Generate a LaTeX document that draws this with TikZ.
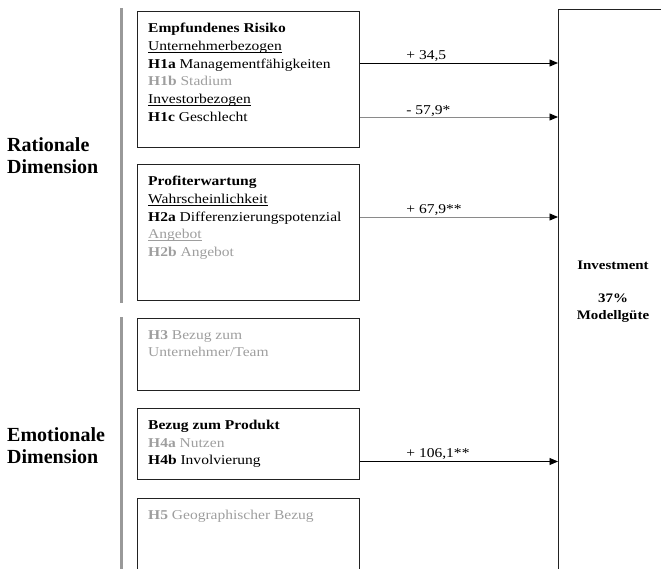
\documentclass[tikz,border=0pt]{standalone}
\usepackage{fontspec}
\setmainfont{Liberation Serif}
\newfontfamily\hypfont{Liberation Serif}[FakeStretch=1.15]
\usetikzlibrary{arrows.meta,positioning}

\definecolor{framecol}{HTML}{222222}
\definecolor{bargray}{HTML}{999999}
\definecolor{hypgray}{HTML}{9E9E9E}
\definecolor{linegray}{HTML}{8A8A8A}

\newsavebox{\ulbox}
\newcommand{\uln}[1]{\sbox{\ulbox}{#1}\rlap{\rule[-1.8pt]{\wd\ulbox}{0.6pt}}\usebox{\ulbox}}
\newcommand{\nosig}[1]{\textcolor{hypgray}{#1}}

\tikzset{
  hbox/.style={draw=framecol,line width=1.3pt,anchor=north west,minimum width=222pt,inner sep=0pt},
  htext/.style={anchor=north west,align=left,inner sep=0pt,font=\hypfont\fontsize{13.5}{17.7}\selectfont},
  dim/.style={anchor=north west,align=left,inner sep=0pt,font=\fontsize{20}{22}\selectfont\bfseries},
  bar/.style={draw=bargray,line width=3pt},
  arr/.style={line width=0.9pt,-{Triangle[length=8.5pt,width=7pt,color=black]}},
  lab/.style={anchor=base west,inner sep=0pt,yshift=4pt,font=\hypfont\fontsize{13.5}{16}\selectfont}
}

\begin{document}
\begin{tikzpicture}[x=1pt,y=-1pt]
    \clip (0,0) rectangle (661,568);

    \draw[bar] (121,8) -- (121,303);
    \draw[bar] (121,317) -- (121,570);

    \node (rat) at (7,137) [dim]{Rationale\\Dimension};
    \node (emo) at (7,427) [dim]{Emotionale\\Dimension};

    \node (risk) at (137,11) [hbox,minimum height=136pt]{};
    \node (prof) at (137,164) [hbox,minimum height=136pt]{};
    \node (team) at (137,318) [hbox,minimum height=72pt]{};
    \node (prod) at (137,408) [hbox,minimum height=71pt]{};
    \node (geo) at (137,498) [hbox,minimum height=90pt]{};
    \node (invest) at (558,9) [draw=framecol,line width=1.3pt,anchor=north west,minimum width=110pt,minimum height=600pt]{};

    \node (risk-t) at ([shift={(11,12)}]risk.north west) [htext]{\textbf{Empfundenes Risiko}\\
      \uln{Unternehmerbezogen}\\
      \textbf{H1a} Managementfähigkeiten\\
      \nosig{\textbf{H1b} Stadium}\\
      \uln{Investorbezogen}\\
      \textbf{H1c} Geschlecht};
    \node (prof-t) at ([shift={(11,12)}]prof.north west) [htext]{\textbf{Profiterwartung}\\
      \uln{Wahrscheinlichkeit}\\
      \textbf{H2a} Differenzierungspotenzial\\
      \nosig{\uln{Angebot}}\\
      \nosig{\textbf{H2b} Angebot}};
    \node (team-t) at ([shift={(11,12)}]team.north west) [htext]{\nosig{\textbf{H3} Bezug zum}\\
      \nosig{Unternehmer/Team}};
    \node (prod-t) at ([shift={(11,12)}]prod.north west) [htext]{\textbf{Bezug zum Produkt}\\
      \nosig{\textbf{H4a} Nutzen}\\
      \textbf{H4b} Involvierung};
    \node (geo-t) at ([shift={(11,12)}]geo.north west) [htext]{\nosig{\textbf{H5} Geographischer Bezug}};

    \node (invest-t) at (613,261) [anchor=north,align=center,inner sep=0pt,font=\hypfont\bfseries\fontsize{13}{17}\selectfont]{Investment\\[16pt]37\%\\Modellgüte};

    \coordinate (a1) at ([yshift=-52pt]risk.north east);
    \coordinate (a2) at ([yshift=-106pt]risk.north east);
    \coordinate (a3) at ([yshift=-53pt]prof.north east);
    \coordinate (a4) at ([yshift=-53.5pt]prod.north east);

    \draw[arr] (a1) -- (a1 -| invest.west) node[lab,pos=0.231]{+ 34,5};
    \draw[arr,draw=linegray] (a2) -- (a2 -| invest.west) node[lab,pos=0.231,yshift=-1pt]{- 57,9*};
    \draw[arr,draw=linegray] (a3) -- (a3 -| invest.west) node[lab,pos=0.231]{+ 67,9**};
    \draw[arr] (a4) -- (a4 -| invest.west) node[lab,pos=0.231]{+ 106,1**};

\end{tikzpicture}
\end{document}
